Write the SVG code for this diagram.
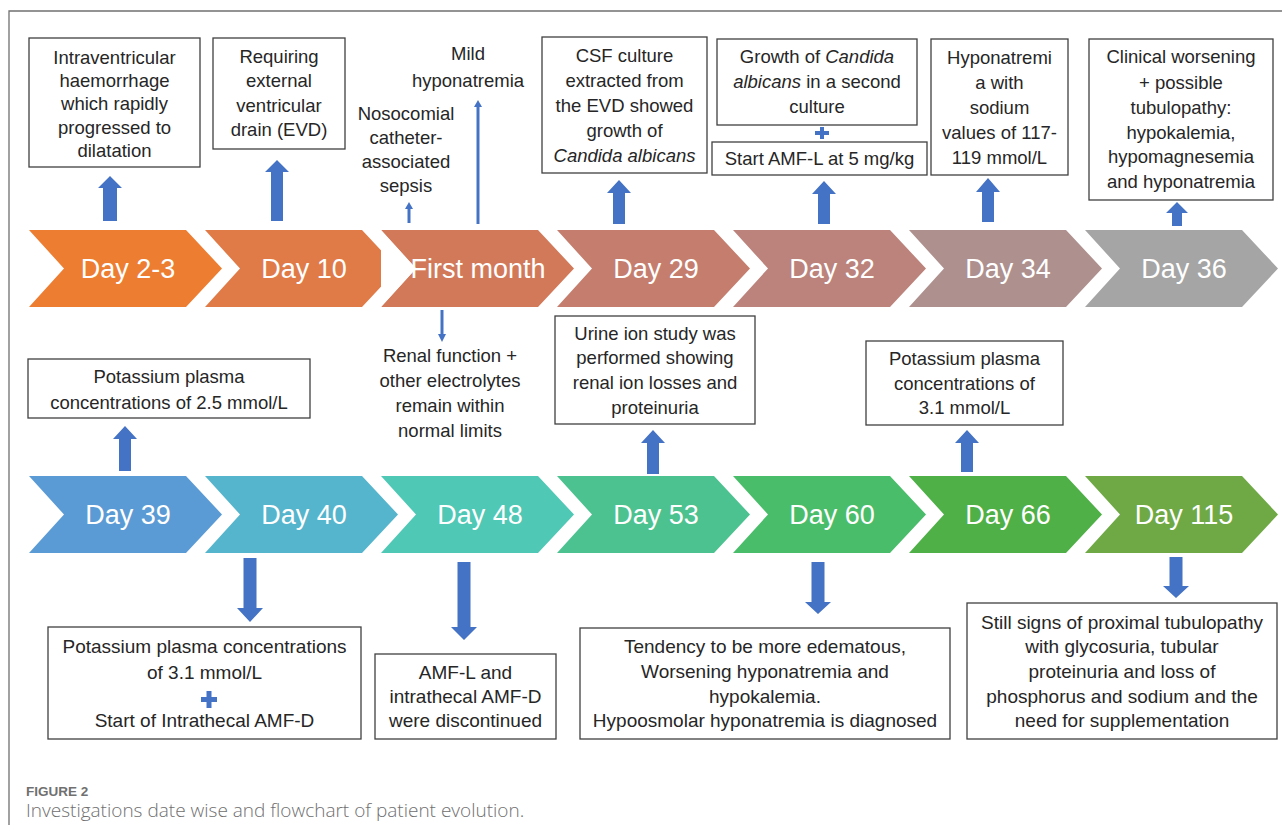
<svg xmlns="http://www.w3.org/2000/svg" width="1282" height="825" viewBox="0 0 1282 825">
<style>
.t{font-family:"Liberation Sans",Arial,sans-serif;font-size:18.5px;fill:#262626;text-anchor:middle}
.b{font-size:19px}
.d{font-family:"Liberation Sans",Arial,sans-serif;font-size:27px;fill:#ffffff;text-anchor:middle}
.box{fill:#ffffff;stroke:#404040;stroke-width:1.3}
.ar{fill:#4472C4}
.tl{stroke:#4472C4;stroke-width:3;fill:none}
.i{font-style:italic}
.cap1{font-family:"Liberation Sans",Arial,sans-serif;font-size:13.5px;font-weight:bold;fill:#707070}
.cap2{font-family:"Open Sans","Liberation Sans",Arial,sans-serif;font-size:19px;fill:#6f6f6f;font-weight:300}
</style>
<rect width="1282" height="825" fill="#ffffff"/>
<path d="M9,825 L9,11 L1282,11" fill="none" stroke="#707070" stroke-width="1.3"/>

<!-- top chevrons -->
<g id="c-day2-3"><path d="M29,230 L186,230 L222,268.5 L186,307 L29,307 L64,268.5 Z" fill="#ED7D31"/><text class="d" x="128" y="278">Day 2-3</text></g>
<g id="c-day10"><path d="M205,230 L362,230 L398,268.5 L362,307 L205,307 L240,268.5 Z" fill="#E07B48"/><text class="d" x="304" y="278">Day 10</text></g>
<g id="c-first"><path d="M381,230 L538,230 L574,268.5 L538,307 L381,307 L416,268.5 Z" fill="#D27959"/><text class="d" x="478" y="278">First month</text><path d="M381,230 L416,268.5 L381,307 Z" fill="#ffffff"/></g>
<g id="c-day29"><path d="M557,230 L714,230 L750,268.5 L714,307 L557,307 L592,268.5 Z" fill="#C57D6D"/><text class="d" x="656" y="278">Day 29</text></g>
<g id="c-day32"><path d="M733,230 L890,230 L926,268.5 L890,307 L733,307 L768,268.5 Z" fill="#BB837B"/><text class="d" x="832" y="278">Day 32</text></g>
<g id="c-day34"><path d="M909,230 L1066,230 L1102,268.5 L1066,307 L909,307 L944,268.5 Z" fill="#AE908E"/><text class="d" x="1008" y="278">Day 34</text></g>
<g id="c-day36"><path d="M1085,230 L1242,230 L1278,268.5 L1242,307 L1085,307 L1120,268.5 Z" fill="#A5A5A5"/><text class="d" x="1184" y="278">Day 36</text></g>

<!-- bottom chevrons -->
<g id="c-day39"><path d="M29,476 L186,476 L222,514.5 L186,553 L29,553 L64,514.5 Z" fill="#5B9BD5"/><text class="d" x="128" y="524">Day 39</text></g>
<g id="c-day40"><path d="M205,476 L362,476 L398,514.5 L362,553 L205,553 L240,514.5 Z" fill="#55B5CC"/><text class="d" x="304" y="524">Day 40</text></g>
<g id="c-day48"><path d="M381,476 L538,476 L574,514.5 L538,553 L381,553 L416,514.5 Z" fill="#4FC8B5"/><text class="d" x="480" y="524">Day 48</text></g>
<g id="c-day53"><path d="M557,476 L714,476 L750,514.5 L714,553 L557,553 L592,514.5 Z" fill="#4CC290"/><text class="d" x="656" y="524">Day 53</text></g>
<g id="c-day60"><path d="M733,476 L890,476 L926,514.5 L890,553 L733,553 L768,514.5 Z" fill="#4ABD6A"/><text class="d" x="832" y="524">Day 60</text></g>
<g id="c-day66"><path d="M909,476 L1066,476 L1102,514.5 L1066,553 L909,553 L944,514.5 Z" fill="#4EB046"/><text class="d" x="1008" y="524">Day 66</text></g>
<g id="c-day115"><path d="M1085,476 L1242,476 L1278,514.5 L1242,553 L1085,553 L1120,514.5 Z" fill="#6FA945"/><text class="d" x="1184" y="524">Day 115</text></g>

<!-- top notes -->
<g id="n-ivh"><rect class="box" x="29" y="38" width="171" height="129"/>
<text class="t" x="114.5" y="63.5">Intraventricular</text><text class="t" x="114.5" y="86.5">haemorrhage</text><text class="t" x="114.5" y="109.5">which rapidly</text><text class="t" x="114.5" y="133.5">progressed to</text><text class="t" x="114.5" y="156.5">dilatation</text></g>
<g id="n-evd"><rect class="box" x="213" y="38" width="132" height="111"/>
<text class="t" x="279" y="62.5">Requiring</text><text class="t" x="279" y="86.5">external</text><text class="t" x="279" y="111.5">ventricular</text><text class="t" x="279" y="135.5">drain (EVD)</text></g>
<g id="n-sepsis"><text class="t" x="406" y="119.5">Nosocomial</text><text class="t" x="406" y="143.5">catheter-</text><text class="t" x="406" y="167.5">associated</text><text class="t" x="406" y="191.5">sepsis</text></g>
<g id="n-mild"><text class="t" x="468" y="59.5">Mild</text><text class="t" x="468" y="86.5">hyponatremia</text></g>
<g id="n-csf"><rect class="box" x="542" y="37" width="165" height="136"/>
<text class="t" x="624.5" y="61.5">CSF culture</text><text class="t" x="624.5" y="86.5">extracted from</text><text class="t" x="624.5" y="111.5">the EVD showed</text><text class="t" x="624.5" y="136.5">growth of</text><text class="t i" x="624.5" y="161.5">Candida albicans</text></g>
<g id="n-growth"><rect class="box" x="717" y="39" width="200" height="86"/>
<text class="t" x="817" y="62.5">Growth of <tspan class="i">Candida</tspan></text><text class="t" x="817" y="88"><tspan class="i">albicans</tspan> in a second</text><text class="t" x="817" y="112.5">culture</text></g>
<g id="n-plus1"><path class="ar" d="M815,131 h14 v4 h-14 Z M820,127 h4 v12 h-4 Z"/></g>
<g id="n-amfl"><rect class="box" x="712" y="142" width="215" height="33"/>
<text class="t" x="819.5" y="164.5">Start AMF-L at 5 mg/kg</text></g>
<g id="n-hypo"><rect class="box" x="931" y="39" width="137" height="136"/>
<text class="t" x="999.5" y="63.5">Hyponatremi</text><text class="t" x="999.5" y="88.5">a with</text><text class="t" x="999.5" y="113.5">sodium</text><text class="t" x="999.5" y="138.5">values of 117-</text><text class="t" x="999.5" y="163.5">119 mmol/L</text></g>
<g id="n-clin"><rect class="box" x="1089" y="39" width="184" height="161"/>
<text class="t" x="1181" y="62.5">Clinical worsening</text><text class="t" x="1181" y="88.5">+ possible</text><text class="t" x="1181" y="113.5">tubulopathy:</text><text class="t" x="1181" y="138.5">hypokalemia,</text><text class="t" x="1181" y="162.5">hypomagnesemia</text><text class="t" x="1181" y="187.5">and hyponatremia</text></g>

<!-- middle notes -->
<g id="n-k25"><rect class="box" x="28" y="359" width="282" height="59"/>
<text class="t" x="169" y="383">Potassium plasma</text><text class="t" x="169" y="409">concentrations of 2.5 mmol/L</text></g>
<g id="n-renal"><text class="t" x="450" y="361.5">Renal function +</text><text class="t" x="450" y="386.5">other electrolytes</text><text class="t" x="450" y="411.5">remain within</text><text class="t" x="450" y="436.5">normal limits</text></g>
<g id="n-urine"><rect class="box" x="555" y="316" width="200" height="108"/>
<text class="t" x="655" y="339.5">Urine ion study was</text><text class="t" x="655" y="363.5">performed showing</text><text class="t" x="655" y="388.5">renal ion losses and</text><text class="t" x="655" y="413.5">proteinuria</text></g>
<g id="n-k31a"><rect class="box" x="866" y="341" width="197" height="84"/>
<text class="t" x="964.5" y="364.5">Potassium plasma</text><text class="t" x="964.5" y="389.5">concentrations of</text><text class="t" x="964.5" y="413.5">3.1 mmol/L</text></g>

<!-- bottom notes -->
<g id="n-k31b"><rect class="box" x="48" y="627" width="313" height="112"/>
<text class="t b" x="204.5" y="652.5">Potassium plasma concentrations</text><text class="t b" x="204.5" y="678.5">of 3.1 mmol/L</text>
<path class="ar" d="M201,697 h16 v5 h-16 Z M206.5,691 h5 v17 h-5 Z"/>
<text class="t b" x="204.5" y="726.5">Start of Intrathecal AMF-D</text></g>
<g id="n-disc"><rect class="box" x="375" y="654" width="181" height="85"/>
<text class="t b" x="465.5" y="678.5">AMF-L and</text><text class="t b" x="465.5" y="702.5">intrathecal AMF-D</text><text class="t b" x="465.5" y="726.5">were discontinued</text></g>
<g id="n-edema"><rect class="box" x="580" y="628" width="370" height="111"/>
<text class="t b" x="765" y="652.5">Tendency to be more edematous,</text><text class="t b" x="765" y="677.5">Worsening hyponatremia and</text><text class="t b" x="765" y="702.5">hypokalemia.</text><text class="t b" x="765" y="726.5">Hypoosmolar hyponatremia is diagnosed</text></g>
<g id="n-still"><rect class="box" x="967" y="603" width="310" height="136"/>
<text class="t b" x="1122" y="628.5">Still signs of proximal tubulopathy</text><text class="t b" x="1122" y="652.5">with glycosuria, tubular</text><text class="t b" x="1122" y="677.5">proteinuria and loss of</text><text class="t b" x="1122" y="702.5">phosphorus and sodium and the</text><text class="t b" x="1122" y="726.5">need for supplementation</text></g>

<!-- connectors -->
<g id="connectors">
<path class="ar" d="M110,176 L122,188 L117,188 L117,221 L103,221 L103,188 L98,188 Z"/>
<path class="ar" d="M277,160 L289,172 L283,172 L283,221 L271,221 L271,172 L265,172 Z"/>
<path class="ar" d="M619,180 L631,193 L625,193 L625,224 L613,224 L613,193 L607,193 Z"/>
<path class="ar" d="M824,181 L836,194 L830,194 L830,224 L818,224 L818,194 L812,194 Z"/>
<path class="ar" d="M988,178 L1000,192 L994,192 L994,222 L982,222 L982,192 L976,192 Z"/>
<path class="ar" d="M1177,202 L1188,213 L1182,213 L1182,226 L1172,226 L1172,213 L1166,213 Z"/>
<line class="tl" x1="409" y1="223" x2="409" y2="208"/><path class="ar" d="M409,202 L413,209 L405,209 Z"/>
<line class="tl" x1="478" y1="224" x2="478" y2="106"/><path class="ar" d="M478,100 L482,107 L474,107 Z"/>
<line class="tl" x1="442" y1="310" x2="442" y2="335"/><path class="ar" d="M442,342 L446,334 L438,334 Z"/>
<path class="ar" d="M125,426 L137,439 L131,439 L131,471 L119,471 L119,439 L113,439 Z"/>
<path class="ar" d="M653,430 L665,443 L659,443 L659,474 L647,474 L647,443 L641,443 Z"/>
<path class="ar" d="M967,430 L979,443 L973,443 L973,472 L961,472 L961,443 L955,443 Z"/>
<path class="ar" d="M250,622 L263,608 L256.5,608 L256.5,558 L243.5,558 L243.5,608 L237,608 Z"/>
<path class="ar" d="M464,640 L477,627 L470.5,627 L470.5,562 L457.5,562 L457.5,627 L451,627 Z"/>
<path class="ar" d="M818,614 L831,602 L824.5,602 L824.5,562 L811.5,562 L811.5,602 L805,602 Z"/>
<path class="ar" d="M1176,598 L1189,586 L1182.5,586 L1182.5,557 L1169.5,557 L1169.5,586 L1163,586 Z"/>
</g>

<g id="caption">
<text class="cap1" x="26" y="796">FIGURE 2</text>
<text class="cap2" x="26" y="817">Investigations date wise and flowchart of patient evolution.</text>
</g>
</svg>
